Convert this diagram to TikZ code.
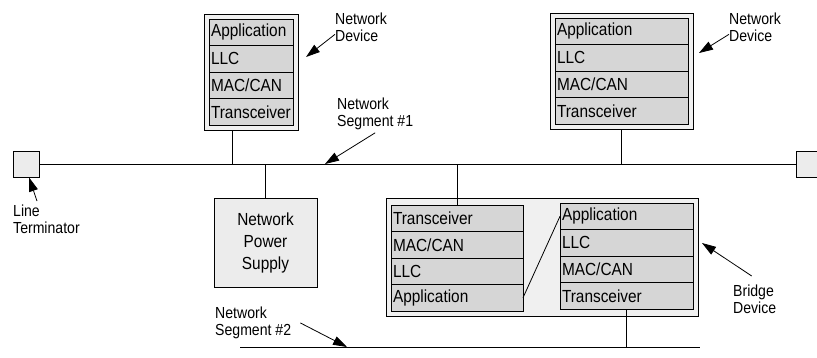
\documentclass[tikz,border=0pt]{standalone}
\usepackage{fontspec}
\setmainfont{Liberation Sans}[FakeStretch=0.88]
\usepackage{tikz}
\usetikzlibrary{arrows.meta, positioning, fit, backgrounds}

\begin{document}
\begin{tikzpicture}[
    x=1pt, y=-1pt,
    font=\fontsize{16}{16.5}\selectfont,
    layer/.style={
        rectangle, draw, fill=gray!32, line width=0.8pt,
        font=\fontsize{17.5}{17.5}\selectfont,
        text width=#1, align=left, inner xsep=2pt, inner ysep=0pt,
        minimum height=26.5pt, outer sep=0pt
    },
    housing/.style={
        rectangle, draw, fill=gray!12, line width=0.8pt, inner sep=5pt
    },
    supply/.style={
        rectangle, draw, fill=gray!15, line width=0.8pt, align=center,
        font=\fontsize{17.5}{22}\selectfont,
        minimum width=103pt, minimum height=89pt
    },
    terminator/.style={
        rectangle, draw, fill=gray!15, line width=0.8pt, minimum size=26pt
    },
    lbl/.style={anchor=north west, align=left, inner sep=0pt},
    wire/.style={line width=0.8pt},
    arrow/.style={-{Triangle[length=14pt,width=9pt]}, line width=0.8pt}
]
\useasboundingbox (0,0) rectangle (817,357);
\clip (0,0) rectangle (817,357);

% Network device, left
\node[layer=80pt, anchor=north west] (devAapp) at (209,19) {Application};
\node[layer=80pt, below=0pt of devAapp] (devAllc) {LLC};
\node[layer=80pt, below=0pt of devAllc] (devAmac) {MAC/CAN};
\node[layer=80pt, below=0pt of devAmac] (devAtrx) {Transceiver};

% Network device, right
\node[layer=129pt, anchor=north west] (devBapp) at (555,18) {Application};
\node[layer=129pt, below=0pt of devBapp] (devBllc) {LLC};
\node[layer=129pt, below=0pt of devBllc] (devBmac) {MAC/CAN};
\node[layer=129pt, below=0pt of devBmac] (devBtrx) {Transceiver};

% Bridge, segment #1 side
\node[layer=128pt, anchor=north west] (brLtrx) at (391,205) {Transceiver};
\node[layer=128pt, below=0pt of brLtrx] (brLmac) {MAC/CAN};
\node[layer=128pt, below=0pt of brLmac] (brLllc) {LLC};
\node[layer=128pt, below=0pt of brLllc] (brLapp) {Application};

% Bridge, segment #2 side
\node[layer=129pt, anchor=north west] (brRapp) at (560,203) {Application};
\node[layer=129pt, below=0pt of brRapp] (brRllc) {LLC};
\node[layer=129pt, below=0pt of brRllc] (brRmac) {MAC/CAN};
\node[layer=129pt, below=0pt of brRmac] (brRtrx) {Transceiver};

\begin{scope}[on background layer]
\node[housing, fit=(devAapp)(devAtrx)] (devA) {};
\node[housing, fit=(devBapp)(devBtrx)] (devB) {};
\node[housing, fit=(brLtrx)(brLapp)(brRapp)(brRtrx)] (bridge) {};
\end{scope}

\node[supply] (supply) at (265.5,242.5) {Network\\Power\\Supply};
\node[terminator] (termL) at (26,164) {};
\node[terminator] (termR) at (809,164) {};

% Labels
\node[lbl] (lblDevA) at (335,13) {Network\\Device};
\node[lbl] (lblDevB) at (729,13) {Network\\Device};
\node[lbl] (lblSeg1) at (337,98) {Network\\Segment \#1};
\node[lbl] (lblTerm) at (13,205) {Line\\Terminator};
\node[lbl] (lblSeg2) at (215,307) {Network\\Segment \#2};
\node[lbl] (lblBr) at (733,285) {Bridge\\Device};

\coordinate (tapA) at (232,164);
\coordinate (seg2W) at (240,347);
\coordinate (seg2E) at (700,347);
\coordinate (ptrDevA) at (306,57);
\coordinate (ptrDevB) at (699,53);
\coordinate (ptrSeg1) at (325,164);
\coordinate (ptrSeg2) at (347,347);
\coordinate (ptrBridge) at (702,243);

% Segments and taps
\draw[wire] (termL) -- (termR);
\draw[wire] (tapA |- devA.south) -- (tapA);
\draw[wire] (devB) -- (devB |- termR);
\draw[wire] (supply) -- (supply |- termL);
\draw[wire] (brLtrx) -- (brLtrx |- termL);
\draw[wire] (seg2W) -- (seg2E);
\draw[wire] (brRtrx) -- (brRtrx |- seg2E);
\draw[wire] (brLapp.east) -- (brRapp.west);

% Pointers
\draw[arrow] ([yshift=-7pt]lblDevA.west) -- (ptrDevA);
\draw[arrow] ([yshift=-7pt]lblDevB.west) -- (ptrDevB);
\draw[arrow] ([yshift=-3pt]lblSeg1.south) -- (ptrSeg1);
\draw[arrow] ([xshift=24pt,yshift=4pt]lblTerm.north west) -- ([xshift=3pt]termL.south);
\draw[arrow] ([xshift=9pt]lblSeg2.east) -- (ptrSeg2);
\draw[arrow] ([xshift=-3pt,yshift=9pt]lblBr.north) -- (ptrBridge);

\end{tikzpicture}
\end{document}
